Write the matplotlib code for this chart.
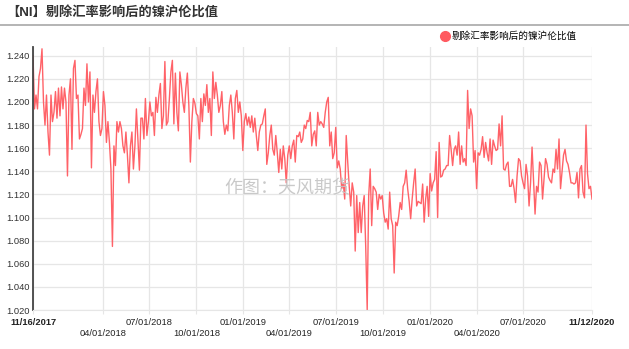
import numpy as np
import pandas as pd
import matplotlib
matplotlib.use("Agg")
import matplotlib.pyplot as plt
from matplotlib.lines import Line2D

plt.rcParams['font.family'] = ['Liberation Sans', 'Noto Sans CJK SC', 'DejaVu Sans']

# ratio values, in time order (roughly every 3 days)
seg_2017_18 = [1.240, 1.194, 1.206, 1.194, 1.222, 1.229, 1.246, 1.200, 1.180, 1.206,
               1.174, 1.154, 1.206, 1.183, 1.191, 1.209, 1.186, 1.212, 1.188, 1.213,
               1.194, 1.212, 1.200, 1.136, 1.206, 1.220, 1.159, 1.229, 1.236, 1.203,
               1.206, 1.168, 1.172, 1.177, 1.212, 1.197, 1.233, 1.200, 1.226, 1.143,
               1.206, 1.191, 1.209, 1.220, 1.183, 1.171, 1.177, 1.209, 1.197, 1.165,
               1.183, 1.165, 1.142, 1.075, 1.162, 1.145, 1.183, 1.174]
seg_2018 = [1.183, 1.177, 1.162, 1.156, 1.174, 1.154, 1.130, 1.162, 1.174, 1.142,
            1.162, 1.194, 1.168, 1.141, 1.186, 1.186, 1.168, 1.203, 1.171, 1.183,
            1.200, 1.188, 1.191, 1.171, 1.204, 1.191, 1.206, 1.216, 1.177, 1.188,
            1.235, 1.180, 1.183, 1.203, 1.226, 1.236, 1.181, 1.225, 1.191, 1.175,
            1.226, 1.215, 1.200, 1.191, 1.212, 1.225, 1.197, 1.148, 1.183, 1.203,
            1.199, 1.190, 1.188, 1.168, 1.203, 1.183, 1.207, 1.197, 1.215, 1.191]
seg_2019a = [1.203, 1.171, 1.226, 1.203, 1.217, 1.206, 1.191, 1.197, 1.209, 1.183,
             1.172, 1.180, 1.175, 1.197, 1.206, 1.191, 1.168, 1.203, 1.210, 1.191,
             1.200, 1.188, 1.158, 1.183, 1.190, 1.180, 1.187, 1.178, 1.188, 1.174,
             1.186, 1.171, 1.158, 1.174, 1.180, 1.181, 1.188, 1.194, 1.146, 1.156,
             1.171, 1.180, 1.159, 1.154, 1.171, 1.156, 1.139, 1.159, 1.142, 1.162,
             1.151, 1.130, 1.154, 1.162, 1.151, 1.162, 1.167, 1.148, 1.171, 1.170]
seg_2019b = [1.174, 1.165, 1.168, 1.180, 1.177, 1.184, 1.183, 1.191, 1.162, 1.172,
             1.175, 1.162, 1.191, 1.180, 1.183, 1.181, 1.178, 1.191, 1.200, 1.204,
             1.162, 1.174, 1.151, 1.156, 1.178, 1.143, 1.149, 1.142, 1.125, 1.130,
             1.116, 1.171, 1.148, 1.127, 1.110, 1.130, 1.122, 1.071, 1.119, 1.087,
             1.113, 1.087, 1.110, 1.119, 1.075, 1.020, 1.119, 1.142, 1.093, 1.127,
             1.125, 1.122, 1.107, 1.120, 1.116, 1.119, 1.104, 1.096, 1.099, 1.090]
seg_2020a = [1.122, 1.099, 1.093, 1.052, 1.096, 1.093, 1.101, 1.113, 1.107, 1.127,
             1.130, 1.141, 1.125, 1.114, 1.099, 1.116, 1.130, 1.142, 1.110, 1.114,
             1.113, 1.112, 1.129, 1.096, 1.116, 1.127, 1.101, 1.138, 1.123, 1.130,
             1.133, 1.157, 1.100, 1.165, 1.135, 1.136, 1.141, 1.142, 1.145, 1.145,
             1.171, 1.159, 1.145, 1.159, 1.162, 1.154, 1.174, 1.146, 1.162, 1.148,
             1.151, 1.145, 1.210, 1.177, 1.194, 1.188, 1.148, 1.158, 1.125, 1.156]
seg_2020b = [1.154, 1.159, 1.170, 1.152, 1.165, 1.156, 1.149, 1.168, 1.146, 1.167,
             1.162, 1.158, 1.159, 1.181, 1.162, 1.188, 1.142, 1.141, 1.146, 1.148,
             1.127, 1.127, 1.133, 1.125, 1.113, 1.136, 1.151, 1.149, 1.136, 1.130,
             1.125, 1.146, 1.136, 1.110, 1.130, 1.161, 1.133, 1.103, 1.127, 1.122,
             1.148, 1.145, 1.116, 1.133, 1.151, 1.146, 1.135, 1.132, 1.130, 1.142,
             1.139, 1.159, 1.142, 1.168, 1.125, 1.139, 1.154, 1.159, 1.149, 1.146,
             1.139, 1.130, 1.130, 1.129, 1.130, 1.139, 1.117, 1.142, 1.145, 1.122,
             1.117, 1.180, 1.138, 1.125, 1.127, 1.116]

start_date = "2017-11-16"
end_date = "2020-11-12"
tick_dates = ["2017-11-16", "2018-04-01", "2018-07-01", "2018-10-01", "2019-01-01",
              "2019-04-01", "2019-07-01", "2019-10-01", "2020-01-01", "2020-04-01",
              "2020-07-01", "2020-11-12"]
tick_labels = ["11/16/2017", "04/01/2018", "07/01/2018", "10/01/2018", "01/01/2019",
               "04/01/2019", "07/01/2019", "10/01/2019", "01/01/2020", "04/01/2020",
               "07/01/2020", "11/12/2020"]
y_ticks = [1.02, 1.04, 1.06, 1.08, 1.10, 1.12, 1.14, 1.16, 1.18, 1.20, 1.22, 1.24]

title = "【NI】剔除汇率影响后的镍沪伦比值"
series_name = "剔除汇率影响后的镍沪伦比值"
watermark = "作图：天风期货"

values = np.array(seg_2017_18 + seg_2018 + seg_2019a + seg_2019b + seg_2020a + seg_2020b)
dates = pd.date_range(start_date, end_date, periods=len(values))

red = "#ff5a60"
W, H = 629, 349
fig = plt.figure(figsize=(W / 100, H / 100), dpi=100)
ax = fig.add_axes([33 / W, 1 - 310 / H, (592 - 33) / W, (310 - 46.5) / H])

ax.plot(dates, values, color=red, lw=1.0, alpha=0.95)

ax.set_xlim(pd.Timestamp(start_date), pd.Timestamp(end_date))
ax.set_ylim(1.02, 1.248)
ax.set_yticks(y_ticks)
ax.set_yticklabels(["%.3f" % v for v in y_ticks])

# alternate the date labels on two rows
xlabs = [lab if i % 2 == 0 or i == len(tick_labels) - 1 else "\n" + lab
         for i, lab in enumerate(tick_labels)]
ax.set_xticks(pd.to_datetime(tick_dates))
ax.set_xticklabels(xlabs)
for i, t in enumerate(ax.get_xticklabels()):
    if i in (0, len(tick_labels) - 1):
        t.set_fontweight("bold")
        t.set_color("#111111")

ax.grid(True, color="#e6e6e6", lw=0.9)
ax.set_axisbelow(True)
for s in ("top", "right"):
    ax.spines[s].set_visible(False)
ax.spines["bottom"].set_color("#e6e6e6")
ax.spines["left"].set_color("#444444")
ax.spines["left"].set_linewidth(1.3)
ax.tick_params(axis="y", length=0, pad=2.5, labelsize=6.7, labelcolor="#333333")
ax.tick_params(axis="x", length=3, color="#e6e6e6", pad=3, labelsize=6.7,
               labelcolor="#222222")
ax.set_facecolor("white")

fig.text(6 / W, 1 - 12 / H, title, fontsize=9.5, fontweight="bold",
         color="#333333", va="center", ha="left")
fig.add_artist(Line2D([0, 1], [1 - 24.5 / H, 1 - 24.5 / H], color="#a8a8a8",
                      lw=1.2, transform=fig.transFigure))

fig.text(287 / W, 1 - 189 / H, watermark, fontsize=13, color="#c4c4c4",
         ha="center", va="center", alpha=0.9)

handle = Line2D([], [], marker="o", ls="none", color=red, markersize=7)
ax.legend([handle], [series_name], loc="center right", frameon=False,
          bbox_to_anchor=(577 / W, 1 - 36 / H), bbox_transform=fig.transFigure,
          borderaxespad=0, borderpad=0, handlelength=0.8, handletextpad=0.3,
          prop={"size": 6.9})

fig.savefig("out.png", dpi=100, facecolor="white")
